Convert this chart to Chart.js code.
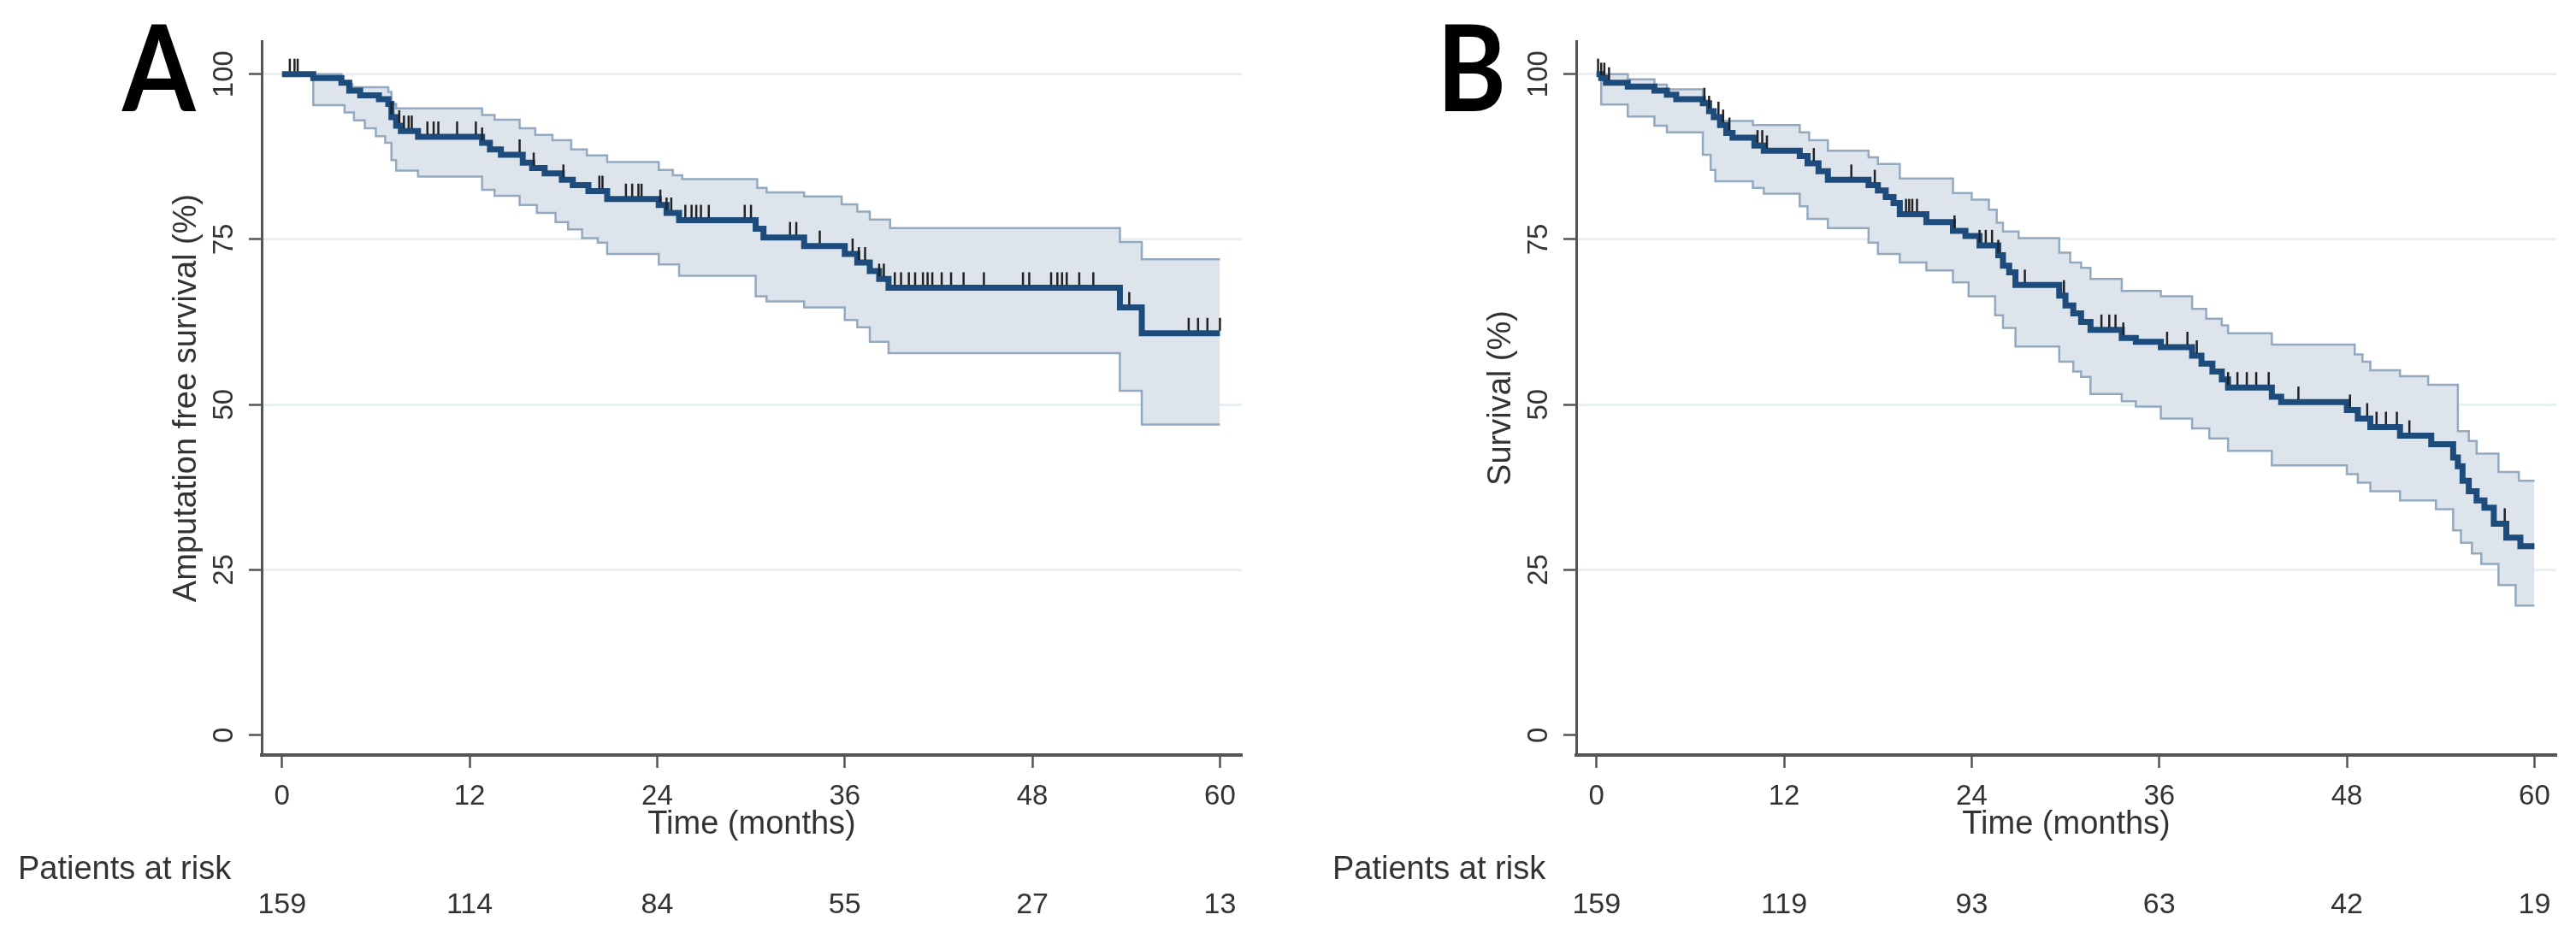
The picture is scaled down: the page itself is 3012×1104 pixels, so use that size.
<!DOCTYPE html>
<html>
<head>
<meta charset="utf-8">
<script src="https://cdn.jsdelivr.net/npm/chart.js@4.4.0/dist/chart.umd.min.js"></script>
<style>
html, body { margin: 0; padding: 0; background: #fff; }
body { width: 3012px; height: 1104px; position: relative; overflow: hidden; }
.panel { position: absolute; top: 0; width: 1475px; height: 1104px; }
#pa { left: 0; }
#pb { left: 1537px; }
</style>
</head>
<body>
<div class="panel" id="pa"><canvas id="chartA" width="1475" height="1104"></canvas></div>
<div class="panel" id="pb"><canvas id="chartB" width="1475" height="1104"></canvas></div>
<script>
// axis ticks and numbers at risk
const xTicks = [0, 12, 24, 36, 48, 60];
const yTicks = [0, 25, 50, 75, 100];
const atRiskA = [159, 114, 84, 55, 27, 13];
const atRiskB = [159, 119, 93, 63, 42, 19];

// Panel A - amputation free survival, [month, %]
const survA = [[0,100],[2.0,99.4],[3.8,98.7],[4.3,97.5],[5.0,96.8],[6.2,96.2],[6.8,95.5],[7.0,93.5],[7.3,92.2],
  [7.6,91.4],[8.7,90.5],[12.8,89.6],[13.3,88.6],[14.0,87.8],[15.4,86.6],[16.0,85.8],[16.8,85.0],[17.9,84.0],
  [18.6,83.2],[19.6,82.3],[20.8,81.1],[24.1,80.2],[24.6,79.0],[25.4,77.9],[30.3,76.6],[30.8,75.3],[33.4,74.0],
  [36.0,72.8],[36.8,71.5],[37.6,70.2],[38.2,69.0],[38.8,67.7],[53.6,64.7],[55.0,60.8],[60,60.8]];
const upperA = [[0,100],[3.8,98.5],[4.5,98.0],[6.8,97.3],[7.0,95.5],[7.3,94.8],[12.8,93.8],[13.6,93.1],[15.2,91.8],
  [16.2,90.8],[17.3,90.0],[18.5,88.6],[19.5,87.7],[20.8,86.7],[24.1,85.5],[25.0,84.7],[25.6,84.1],[30.4,82.8],
  [31.0,82.1],[33.4,81.5],[35.8,80.3],[36.8,79.2],[37.6,78.0],[38.9,76.7],[53.6,74.6],[55.0,72.0],[60,72.0]];
const lowerA = [[0,100],[2.0,95.3],[4.0,94.2],[4.6,93.0],[5.3,91.8],[6.0,90.6],[6.6,89.6],[7.0,87.0],[7.3,85.4],
  [8.7,84.5],[12.8,82.5],[13.6,81.6],[15.2,80.2],[16.3,79.0],[17.5,77.6],[18.3,76.5],[19.2,75.2],[20.2,74.5],
  [20.8,72.8],[24.1,71.2],[25.4,69.5],[30.3,66.4],[31.0,65.6],[33.4,64.7],[36.0,62.8],[36.8,61.7],[37.6,59.5],
  [38.8,57.8],[53.6,52.1],[55.0,47.0],[60,47.0]];
const censorA = [0.5,0.8,1.0,7.0,7.5,7.8,8.1,8.3,9.3,9.7,10.0,11.2,12.4,12.8,15.2,16.1,18.0,20.3,20.5,
  22.0,22.4,22.8,23.0,24.2,24.6,24.9,25.8,26.2,26.5,26.8,27.3,29.6,30.0,32.5,32.9,34.4,36.5,36.9,37.3,
  38.2,38.5,39.2,39.6,40.1,40.5,41.0,41.3,41.6,42.2,42.8,43.6,44.9,47.4,47.8,49.2,49.6,49.9,50.2,51.0,
  51.9,54.2,58.0,58.6,59.2,60.0];

// Panel B - overall survival, [month, %]
const survB = [[0,100],[0.3,99.4],[0.6,98.7],[2.0,98.1],[3.7,97.5],[4.5,96.9],[5.1,96.2],[6.8,95.6],[7.2,94.4],
  [7.5,93.5],[7.9,92.3],[8.3,91.1],[8.7,90.4],[10.1,89.2],[10.7,88.4],[13.0,87.6],[13.5,86.5],[14.2,85.3],
  [14.8,84.0],[17.4,83.2],[18.0,82.4],[18.5,81.4],[19.0,80.5],[19.4,78.8],[21.1,77.6],[22.8,76.3],[23.6,75.5],
  [24.5,74.1],[25.7,72.6],[26.0,71.0],[26.4,70.0],[26.8,68.1],[29.6,66.5],[30.0,65.0],[30.5,63.8],[31.0,62.5],
  [31.6,61.3],[33.6,60.1],[34.5,59.5],[36.1,58.7],[38.1,57.4],[38.7,56.2],[39.4,55.0],[40.0,53.8],[40.4,52.6],
  [43.2,51.2],[43.8,50.4],[48.0,49.2],[48.7,47.9],[49.5,46.6],[51.4,45.3],[53.4,44.0],[54.8,42.0],[55.1,40.7],
  [55.4,38.5],[55.8,36.9],[56.3,35.5],[56.8,34.4],[57.4,32.0],[58.2,29.9],[59.1,28.6],[60,28.6]];
const upperB = [[0,100],[2.0,99.2],[3.7,98.4],[4.5,97.7],[6.8,96.0],[7.2,94.6],[7.6,93.5],[8.0,92.9],[10.0,92.3],
  [13.0,91.2],[13.6,90.0],[14.8,88.4],[17.4,87.4],[18.0,86.4],[19.4,84.2],[22.8,82.0],[24.0,81.0],[25.1,79.5],
  [25.6,77.5],[26.0,76.2],[27.0,75.2],[29.6,73.0],[30.3,71.5],[31.0,70.7],[31.6,69.0],[33.6,67.2],[36.1,66.4],
  [38.1,64.5],[39.0,63.0],[40.0,62.0],[40.4,60.8],[43.2,59.1],[48.5,57.6],[49.0,56.5],[49.5,55.2],[51.4,54.3],
  [53.2,53.0],[55.1,46.0],[55.8,44.5],[56.3,42.6],[57.7,39.8],[59.0,38.5],[60,38.5]];
const lowerB = [[0,100],[0.3,95.4],[2.0,93.6],[3.7,92.2],[4.5,91.2],[6.8,87.8],[7.3,85.5],[7.6,83.8],[10.0,82.8],
  [10.7,81.9],[13.0,80.0],[13.5,78.1],[14.8,76.7],[17.4,74.5],[18.0,72.8],[19.4,71.5],[21.1,70.3],[22.8,68.5],
  [23.8,66.4],[25.5,63.5],[26.0,61.6],[26.8,58.8],[29.6,56.5],[30.5,55.0],[31.0,54.2],[31.6,51.6],[33.6,50.5],
  [34.5,49.7],[36.1,47.9],[38.1,46.4],[39.2,44.9],[40.4,43.0],[43.2,40.8],[48.0,39.5],[48.7,38.2],[49.5,36.9],
  [51.4,35.5],[53.7,34.2],[54.8,31.0],[55.3,29.1],[56.0,27.5],[56.6,25.9],[57.7,22.7],[58.8,19.6],[60,19.6]];
const censorB = [0.1,0.3,0.5,0.8,6.9,7.2,7.8,8.1,8.5,10.3,10.6,10.9,13.9,16.3,17.8,19.8,20.0,20.2,20.5,22.9,
  24.5,24.9,25.3,25.7,27.4,29.9,32.3,32.8,33.2,33.7,36.5,37.8,38.4,40.4,41.0,41.6,42.2,43.0,44.9,48.2,49.3,
  49.9,50.5,51.2,52.0,58.1];

const navy = '#1d4c7c';
const bandFill = '#dee4eb';
const bandEdge = '#93a9c0';
const axisGrey = '#555555';
const textGrey = '#333333';
const sansFont = '"Liberation Sans", Arial, sans-serif';

function toPts(arr) {
    return arr.map(p => ({x: p[0], y: p[1]}));
}

function stepValue(arr, t) {
    let v = arr[0][1];
    for (const p of arr) {
        if (p[0] <= t) v = p[1];
    }
    return v;
}

// censor ticks sit just above the curve
const censorPlugin = {
    id: 'censorMarks',
    afterDatasetsDraw(chart) {
        const cfg = chart.options.plugins.censorMarks;
        const xs = chart.scales.x, ys = chart.scales.y;
        const ctx = chart.ctx;
        ctx.save();
        ctx.strokeStyle = '#222222';
        ctx.lineWidth = 2.5;
        cfg.times.forEach(t => {
            const px = xs.getPixelForValue(t);
            const py = ys.getPixelForValue(stepValue(cfg.surv, t));
            ctx.beginPath();
            ctx.moveTo(px, py - 3);
            ctx.lineTo(px, py - 18);
            ctx.stroke();
        });
        ctx.restore();
    }
};

// Stata style text: rotated y labels, x labels, titles, risk table
const textPlugin = {
    id: 'panelText',
    afterDraw(chart) {
        const cfg = chart.options.plugins.panelText;
        const xs = chart.scales.x, ys = chart.scales.y;
        const area = chart.chartArea;
        const ctx = chart.ctx;
        ctx.save();

        // panel letter
        ctx.fillStyle = '#000';
        ctx.textAlign = 'left';
        ctx.textBaseline = 'alphabetic';
        ctx.save();
        ctx.translate(143, 130);
        ctx.scale(0.88, 1);
        ctx.font = 'bold 140px Lato, "Open Sans", sans-serif';
        ctx.fillText(cfg.letter, 0, 0);
        ctx.restore();

        ctx.fillStyle = textGrey;
        ctx.textAlign = 'center';
        ctx.textBaseline = 'middle';

        // y tick labels, rotated
        ctx.font = '33px ' + sansFont;
        yTicks.forEach(v => {
            ctx.save();
            ctx.translate(263, ys.getPixelForValue(v));
            ctx.rotate(-Math.PI / 2);
            ctx.fillText(String(v), 0, 0);
            ctx.restore();
        });

        // y title
        ctx.save();
        ctx.font = '38px ' + sansFont;
        ctx.translate(219, (area.top + area.bottom) / 2);
        ctx.rotate(-Math.PI / 2);
        ctx.fillText(cfg.yTitle, 0, 0);
        ctx.restore();

        // x tick labels
        ctx.font = '33px ' + sansFont;
        xTicks.forEach(v => {
            ctx.fillText(String(v), xs.getPixelForValue(v), 932);
        });

        // x title
        ctx.font = '38px ' + sansFont;
        ctx.fillText('Time (months)', (area.left + area.right) / 2, 965);

        // patients at risk
        ctx.textAlign = 'left';
        ctx.fillText('Patients at risk', 21, 1018);
        ctx.textAlign = 'center';
        ctx.font = '34px ' + sansFont;
        cfg.atRisk.forEach((n, i) => {
            ctx.fillText(String(n), xs.getPixelForValue(xTicks[i]), 1059);
        });
        ctx.restore();
    }
};

function makeChart(id, letter, yTitle, surv, upper, lower, censor, atRisk) {
    const ctx = document.getElementById(id).getContext('2d');
    return new Chart(ctx, {
        type: 'line',
        data: {
            datasets: [{
                label: 'Survival',
                data: toPts(surv),
                stepped: 'before',
                borderColor: navy,
                borderWidth: 7,
                pointRadius: 0,
                fill: false
            }, {
                label: 'Upper CI',
                data: toPts(upper),
                stepped: 'before',
                borderColor: bandEdge,
                borderWidth: 2.5,
                pointRadius: 0,
                backgroundColor: bandFill,
                fill: '+1'
            }, {
                label: 'Lower CI',
                data: toPts(lower),
                stepped: 'before',
                borderColor: bandEdge,
                borderWidth: 2.5,
                pointRadius: 0,
                fill: false
            }]
        },
        options: {
            responsive: false,
            animation: false,
            devicePixelRatio: 1,
            layout: {
                padding: { left: 291, right: 23, top: 48, bottom: 206 }
            },
            scales: {
                x: {
                    type: 'linear',
                    min: -1.3,
                    max: 61.4,
                    afterBuildTicks: (scale) => { scale.ticks = xTicks.map(v => ({value: v})); },
                    afterFit: (scale) => { scale.height = 15; },
                    ticks: { display: false },
                    grid: {
                        drawOnChartArea: false,
                        tickLength: 15,
                        tickColor: axisGrey,
                        tickWidth: 2.5
                    },
                    border: { color: axisGrey, width: 4 }
                },
                y: {
                    type: 'linear',
                    min: -3,
                    max: 105,
                    afterBuildTicks: (scale) => { scale.ticks = yTicks.map(v => ({value: v})); },
                    afterFit: (scale) => { scale.width = 15; },
                    ticks: { display: false },
                    grid: {
                        color: (c) => (c.tick && c.tick.value === 0) ? 'rgba(0,0,0,0)' : '#e8f0f2',
                        lineWidth: 3,
                        tickLength: 15,
                        tickColor: axisGrey,
                        tickWidth: 2.5
                    },
                    border: { color: axisGrey, width: 3 }
                }
            },
            plugins: {
                legend: { display: false },
                tooltip: { enabled: false },
                filler: { drawTime: 'beforeDatasetsDraw' },
                censorMarks: { times: censor, surv: surv },
                panelText: { letter: letter, yTitle: yTitle, atRisk: atRisk }
            }
        },
        plugins: [censorPlugin, textPlugin]
    });
}

makeChart('chartA', 'A', 'Amputation free survival (%)', survA, upperA, lowerA, censorA, atRiskA);
makeChart('chartB', 'B', 'Survival (%)', survB, upperB, lowerB, censorB, atRiskB);
</script>
</body>
</html>
